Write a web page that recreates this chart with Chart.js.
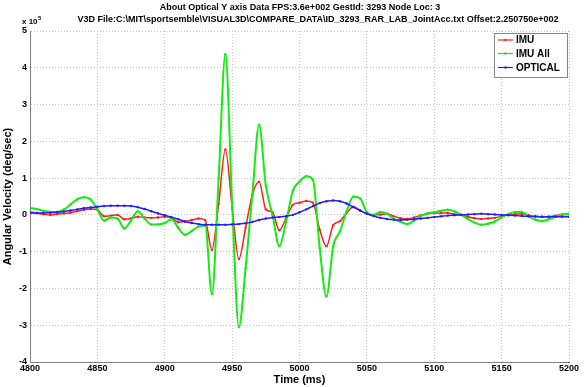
<!DOCTYPE html>
<html>
<head>
<meta charset="utf-8">
<script src="https://cdn.jsdelivr.net/npm/chart.js@4.4.1/dist/chart.umd.min.js"></script>
<style>
  html, body { margin: 0; padding: 0; background: #fff; }
  canvas { display: block; }
</style>
</head>
<body>
<canvas id="velocity" width="584" height="387"></canvas>
<script>
// Time axis (ms), one reading every 5 ms
var times = [];
for (var t = 4800; t <= 5200; t += 5) times.push(t);

// Angular velocity, in units of 1e5 deg/sec
var imu = [
    0.08, 0.05, 0.02, 0.00, 0.02, 0.04, 0.06, 0.10, 0.14, 0.16,
    0.14, -0.04, -0.02, 0.00, -0.12, -0.10, -0.05, -0.07, -0.08, -0.07,
    -0.05, -0.08, -0.20, -0.18, -0.14, -0.10, -0.14, -0.95, 0.30, 1.78,
    0.20, -1.20, -0.35, 0.55, 0.90, 0.15, 0.07, -0.42, -0.10, 0.27,
    0.33, 0.38, 0.33, -0.40, -0.85, -0.28, -0.17, 0.05, 0.22, 0.12,
    0.03, 0.00, 0.01, 0.03, -0.04, -0.09, -0.11, -0.07, -0.01, 0.03,
    0.05, 0.05, 0.05, 0.02, 0.00, -0.05, -0.09, -0.11, -0.10, -0.08,
    -0.04, 0.00, 0.02, 0.03, -0.01, -0.05, -0.05, -0.05, -0.02, 0.01,
    0.03
];
var imuAll = [
    0.19, 0.16, 0.11, 0.08, 0.08, 0.14, 0.28, 0.42, 0.48, 0.42,
    0.15, -0.16, -0.07, -0.10, -0.37, -0.15, 0.10, -0.10, -0.26, -0.26,
    -0.22, -0.12, -0.35, -0.54, -0.44, -0.32, -0.29, -2.15, 1.00, 4.37,
    0.30, -3.05, -1.45, 0.55, 2.45, 0.80, 0.00, -0.85, -0.20, 0.65,
    0.90, 1.05, 0.95, -0.90, -2.22, -0.85, -0.45, 0.10, 0.50, 0.45,
    0.07, 0.00, 0.08, 0.03, -0.11, -0.19, -0.25, -0.16, -0.03, 0.04,
    0.07, 0.11, 0.14, 0.10, 0.00, -0.11, -0.21, -0.27, -0.24, -0.18,
    -0.07, 0.02, 0.08, 0.08, -0.04, -0.13, -0.17, -0.12, -0.05, 0.00,
    0.03
];
var optical = [
    0.05, 0.05, 0.05, 0.06, 0.07, 0.09, 0.12, 0.15, 0.18, 0.20,
    0.22, 0.24, 0.25, 0.25, 0.25, 0.24, 0.21, 0.16, 0.10, 0.04,
    -0.01, -0.06, -0.12, -0.18, -0.22, -0.25, -0.27, -0.27, -0.27, -0.27,
    -0.26, -0.25, -0.23, -0.19, -0.14, -0.10, -0.07, -0.06, -0.04, 0.00,
    0.07, 0.15, 0.24, 0.32, 0.37, 0.39, 0.37, 0.31, 0.21, 0.12,
    0.03, -0.03, -0.08, -0.11, -0.13, -0.14, -0.13, -0.12, -0.10, -0.08,
    -0.06, -0.04, -0.02, -0.01, 0.00, 0.01, 0.02, 0.03, 0.02, 0.01,
    0.00, -0.01, -0.02, -0.03, -0.04, -0.04, -0.05, -0.05, -0.05, -0.05,
    -0.05
];

var seriesNames = ['IMU', 'IMU All', 'OPTICAL'];
var seriesColors = ['rgb(255,30,30)', 'rgb(20,235,20)', 'rgb(30,30,255)'];

var titleLines = [
    'About Optical Y axis Data FPS:3.6e+002 GestId: 3293 Node Loc: 3',
    'V3D File:C:\\MIT\\sportsemble\\VISUAL3D\\COMPARE_DATA\\ID_3293_RAR_LAB_JointAcc.txt Offset:2.250750e+002'
];

var FONT = '"Liberation Sans", Arial, sans-serif';

function toPoints(values) {
    return values.map(function (v, i) { return { x: times[i], y: v }; });
}

function makeSet(i, values, width, order) {
    return {
        label: seriesNames[i],
        data: toPoints(values),
        borderColor: seriesColors[i],
        backgroundColor: seriesColors[i],
        borderWidth: width,
        pointRadius: 1.2,
        pointBorderWidth: 0,
        pointBackgroundColor: seriesColors[i],
        cubicInterpolationMode: 'monotone',
        order: order
    };
}

// Titles, exponent note and boxed legend
var decorations = {
    id: 'decorations',
    afterDraw: function (chart) {
        var ctx = chart.ctx;
        ctx.save();
        ctx.fillStyle = '#000';
        ctx.textBaseline = 'middle';
        ctx.textAlign = 'center';
        ctx.font = 'bold 9px ' + FONT;
        ctx.fillText(titleLines[0], 300, 8);
        ctx.fillText(titleLines[1], 318, 20);

        // x 10^5
        ctx.textAlign = 'left';
        ctx.font = 'bold 8px ' + FONT;
        ctx.fillText('x 10', 22, 22);
        ctx.font = 'bold 6px ' + FONT;
        ctx.fillText('5', 38, 18);

        // legend
        var lx = 494, ly = 33, lw = 73, lh = 44;
        ctx.fillStyle = '#fff';
        ctx.fillRect(lx, ly, lw, lh);
        ctx.strokeStyle = '#888';
        ctx.lineWidth = 1;
        ctx.strokeRect(lx + 0.5, ly + 0.5, lw, lh);
        var rows = [40, 53.5, 67.5];
        chart.data.datasets.forEach(function (ds, i) {
            var y = rows[i];
            ctx.strokeStyle = ds.borderColor;
            ctx.lineWidth = 1.2;
            ctx.beginPath();
            ctx.moveTo(lx + 4, y);
            ctx.lineTo(lx + 19, y);
            ctx.stroke();
            ctx.fillStyle = ds.borderColor;
            ctx.beginPath();
            ctx.arc(lx + 11.5, y, 1.2, 0, Math.PI * 2);
            ctx.fill();
            ctx.fillStyle = '#000';
            ctx.font = 'bold 10px ' + FONT;
            ctx.fillText(ds.label, lx + 22, y + 0.5);
        });
        ctx.restore();
    }
};

var ctx = document.getElementById('velocity').getContext('2d');

var velocityChart = new Chart(ctx, {
    type: 'line',
    data: {
        datasets: [
            makeSet(0, imu, 1.5, 3),
            makeSet(1, imuAll, 2, 2),
            makeSet(2, optical, 1.5, 1)
        ]
    },
    options: {
        responsive: false,
        devicePixelRatio: 1,
        animation: false,
        layout: { padding: { left: 0, right: 15, top: 31, bottom: 0 } },
        plugins: {
            legend: { display: false },
            title: { display: false },
            tooltip: { enabled: false }
        },
        scales: {
            x: {
                type: 'linear',
                min: 4800,
                max: 5200,
                afterFit: function (s) { s.height = 25; },
                ticks: {
                    stepSize: 50,
                    color: '#000',
                    padding: 1,
                    maxRotation: 0,
                    callback: function (v) { return String(v); },
                    font: { family: FONT, size: 9, weight: 'bold' }
                },
                grid: { color: '#c4c4c4', drawTicks: false },
                border: { color: '#808080', width: 1, dash: [1, 2] },
                title: {
                    display: true,
                    text: 'Time (ms)',
                    color: '#000',
                    padding: 0,
                    font: { family: FONT, size: 11, weight: 'bold' }
                }
            },
            y: {
                min: -4,
                max: 5,
                afterFit: function (s) { s.width = 30; },
                ticks: {
                    stepSize: 1,
                    color: '#000',
                    padding: 3,
                    font: { family: FONT, size: 9, weight: 'bold' }
                },
                grid: { color: '#c4c4c4', drawTicks: false },
                border: { color: '#808080', width: 1, dash: [1, 2] },
                title: {
                    display: true,
                    text: 'Angular Velocity (deg/sec)',
                    color: '#000',
                    padding: { top: 1, bottom: 0 },
                    font: { family: FONT, size: 11, weight: 'bold' }
                }
            }
        }
    },
    plugins: [decorations]
});
</script>
</body>
</html>
